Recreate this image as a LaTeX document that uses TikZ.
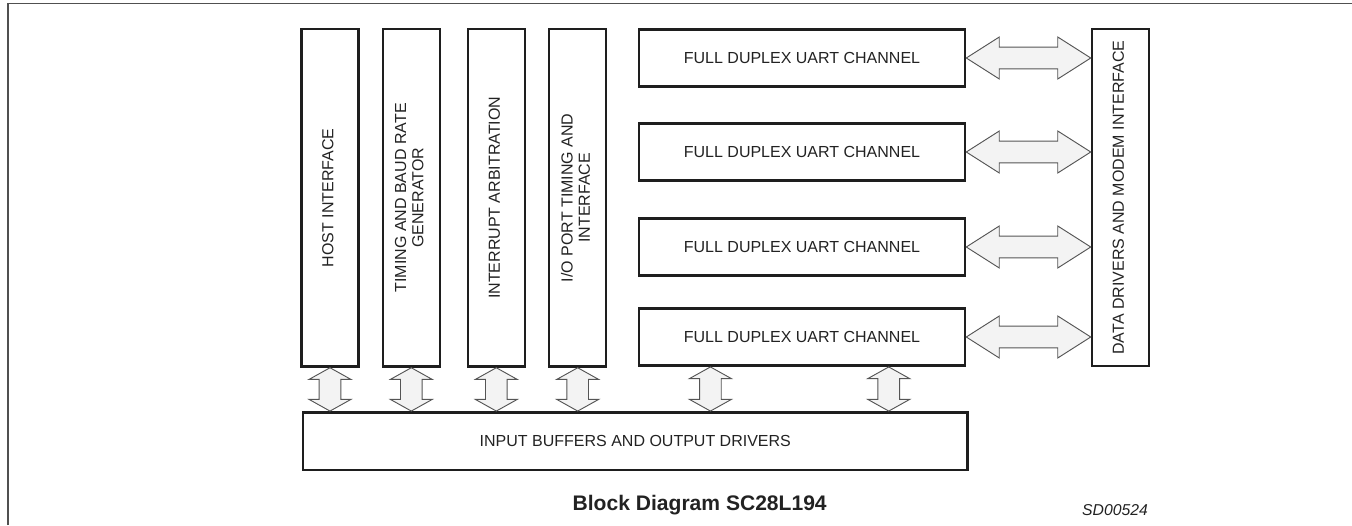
\documentclass[tikz,border=0pt]{standalone}
\usepackage{fontspec}
\setmainfont{Liberation Sans}
\usetikzlibrary{calc}
\definecolor{ink}{HTML}{1E1E1E}
\definecolor{txt}{HTML}{222222}
\definecolor{arrfill}{HTML}{F3F3F3}
\definecolor{arrline}{HTML}{555555}
\definecolor{frame}{HTML}{505050}
\tikzset{
  blk/.style={draw=ink, line width=1.9pt, rectangle, inner sep=0pt, text=txt,
    font=\fontsize{12}{13}\selectfont, align=center},
  vblk/.style={blk, minimum width=42.75pt, minimum height=253pt},
  hblk/.style={blk, minimum width=244.5pt, minimum height=43pt},
  darr/.style={draw=arrline, fill=arrfill, line width=0.7pt, line join=miter},
}
\newcommand\dblarrowH[2]{%
 \draw[darr] (#1) -- ($(#1)+(33,-21)$) -- ($(#1)+(33,-10.8)$) -- ($(#2)+(-33,-10.8)$) -- ($(#2)+(-33,-21)$) -- (#2) -- ($(#2)+(-33,21)$) -- ($(#2)+(-33,10.8)$) -- ($(#1)+(33,10.8)$) -- ($(#1)+(33,21)$) -- cycle;}
\newcommand\dblarrowV[2]{%
 \draw[darr] (#1) -- ($(#1)+(21,11.7)$) -- ($(#1)+(10.8,11.7)$) -- ($(#2)+(10.8,-11.7)$) -- ($(#2)+(21,-11.7)$) -- (#2) -- ($(#2)+(-21,-11.7)$) -- ($(#2)+(-10.8,-11.7)$) -- ($(#1)+(-10.8,11.7)$) -- ($(#1)+(-21,11.7)$) -- cycle;}
\newcommand\vtext[1]{\rotatebox{90}{\begin{tabular}{@{}c@{}}#1\end{tabular}}}
\begin{document}
\begin{tikzpicture}[x=0.75pt, y=-0.75pt]
\useasboundingbox (0,0) rectangle (1352,525);
\draw[frame, line width=1.2pt] (8,525) -- (8,3.5) -- (1352,3.5);

% vertical blocks
\node[vblk] (host) at (330,197.8) {\vtext{HOST INTERFACE}};
\node[vblk] (timing) at (411.3,197.8) {\vtext{TIMING AND BAUD RATE\\GENERATOR}};
\node[vblk] (intr) at (496.3,197.8) {\vtext{INTERRUPT ARBITRATION}};
\node[vblk] (iop) at (577.7,197.8) {\vtext{I/O PORT TIMING AND\\INTERFACE}};

% UART channels
\node[hblk] (u1) at (802,58) {FULL DUPLEX UART CHANNEL};
\node[hblk] (u2) at (802,152) {FULL DUPLEX UART CHANNEL};
\node[hblk] (u3) at (802,247) {FULL DUPLEX UART CHANNEL};
\node[hblk] (u4) at (802,337) {FULL DUPLEX UART CHANNEL};

% data drivers
\node[vblk] (dd) at (1120.5,197.5) {\vtext{DATA DRIVERS AND MODEM INTERFACE}};

% bottom buffer
\node[blk, minimum width=498.5pt, minimum height=43.3pt] (ib) at (635.3,441.2) {INPUT BUFFERS AND OUTPUT DRIVERS};

% horizontal arrows
\foreach \u in {u1,u2,u3,u4}{
  \coordinate (\u r) at (dd.west |- \u.east);
  \dblarrowH{\u.east}{\u r}
}

% vertical arrows
\foreach \b in {host,timing,intr,iop}{
  \coordinate (\b b) at (\b.south |- ib.north);
  \dblarrowV{\b.south}{\b b}
}
\coordinate (ua) at ($(u4.south west)+(72.7,0)$);
\coordinate (ub) at ($(u4.south west)+(251,0)$);
\coordinate (uab) at (ua |- ib.north);
\coordinate (ubb) at (ub |- ib.north);
\dblarrowV{ua}{uab}
\dblarrowV{ub}{ubb}

% captions
\node[anchor=base, text=txt, font=\fontsize{15.8}{18}\selectfont\bfseries, inner sep=0pt] (title) at (699.7,510) {Block Diagram SC28L194};
\node[anchor=base, text=txt, font=\fontsize{11.8}{14}\selectfont\itshape, inner sep=0pt] (code) at (1115,515) {SD00524};
\end{tikzpicture}
\end{document}
